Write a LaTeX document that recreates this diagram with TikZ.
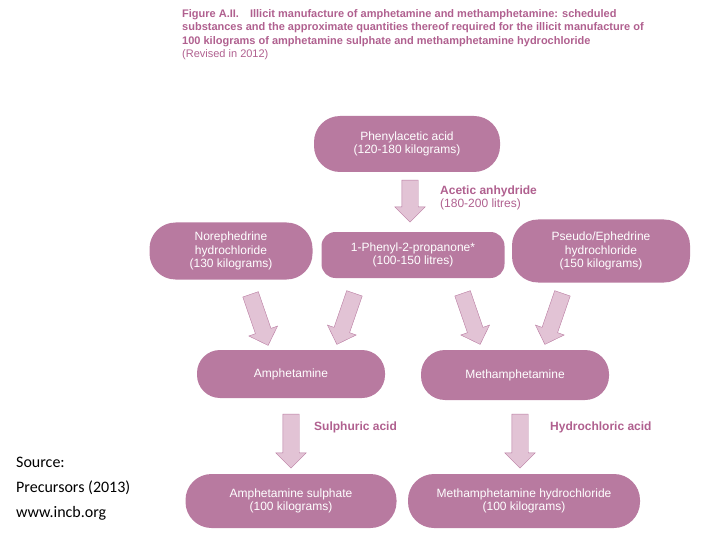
\documentclass[tikz,border=0pt]{standalone}
\usepackage{fontspec}
\setmainfont{Liberation Sans}
\newfontfamily\srcfont{Carlito}
\usetikzlibrary{shapes.arrows}
\definecolor{mauve}{HTML}{B87AA0}
\definecolor{pinkfill}{HTML}{E2C3D5}
\definecolor{labelc}{HTML}{B0608F}
\tikzset{
  box/.style={rounded corners=26pt,fill=mauve,text=white,align=center,font=\fontsize{12}{13.5}\selectfont,inner sep=2pt},
  flow/.style={single arrow,draw=mauve,fill=pinkfill,minimum height=42pt,single arrow head extend=7pt,single arrow tip angle=90,inner xsep=0pt,inner ysep=8pt},
  lab/.style={text=labelc,anchor=west,align=left,font=\fontsize{12}{13}\selectfont,inner sep=0pt}
}
\begin{document}
\begin{tikzpicture}[x=1pt,y=-1pt]
\useasboundingbox (0,0) rectangle (720,540);
% title
\node[anchor=north west,align=left,text=labelc,font=\fontsize{11}{13.5}\selectfont\bfseries,inner sep=0pt] (title) at (182,9)
{Figure A.II.\quad Illicit manufacture of amphetamine and methamphetamine: scheduled\\
substances and the approximate quantities thereof required for the illicit manufacture of\\
100 kilograms of amphetamine sulphate and methamphetamine hydrochloride\\
\mdseries(Revised in 2012)};
% substances
\node[box,minimum width=186pt,minimum height=56pt] (phen) at (407,144) {Phenylacetic acid\\(120-180 kilograms)};
\node[box,minimum width=163pt,minimum height=57pt] (nor) at (231,251) {Norephedrine\\hydrochloride\\(130 kilograms)};
\node[box,minimum width=183pt,minimum height=46pt,rounded corners=14pt] (p2p) at (413,255) {1-Phenyl-2-propanone*\\(100-150 litres)};
\node[box,minimum width=178pt,minimum height=63pt] (pse) at (601,251) {Pseudo/Ephedrine\\hydrochloride\\(150 kilograms)};
\node[box,minimum width=188pt,minimum height=48pt,rounded corners=23pt] (amp) at (291,374) {Amphetamine};
\node[box,minimum width=188pt,minimum height=50pt,rounded corners=24pt] (meth) at (515,375) {Methamphetamine};
\node[box,minimum width=211pt,minimum height=54pt] (ampS) at (291,501) {Amphetamine sulphate\\(100 kilograms)};
\node[box,minimum width=232pt,minimum height=54pt] (methH) at (524,501) {Methamphetamine hydrochloride\\(100 kilograms)};
% arrows
\node[flow,rotate=-90] (a1) at (410,197) {};
\node[flow,rotate=-71,minimum height=54pt] (a2) at (258,316) {};
\node[flow,rotate=-109,minimum height=54pt] (a3) at (347,315) {};
\node[flow,rotate=-71,minimum height=54pt] (a4) at (470,315) {};
\node[flow,rotate=-109,minimum height=54pt] (a5) at (555,315) {};
\node[flow,rotate=-90,minimum height=54pt] (a6) at (291,437) {};
\node[flow,rotate=-90,minimum height=54pt] (a7) at (520,437) {};
% reagents
\node[lab] (acet) at (440,198) {\textbf{Acetic anhydride}\\(180-200 litres)};
\node[lab] (sulph) at (314,427) {\textbf{Sulphuric acid}};
\node[lab] (hcl) at (550,427) {\textbf{Hydrochloric acid}};
% source
\node[anchor=north west,align=left,font=\srcfont\fontsize{16}{25}\selectfont,inner sep=0pt] (src) at (16,457)
{Source:\\Precursors (2013)\\www.incb.org};
\end{tikzpicture}
\end{document}
